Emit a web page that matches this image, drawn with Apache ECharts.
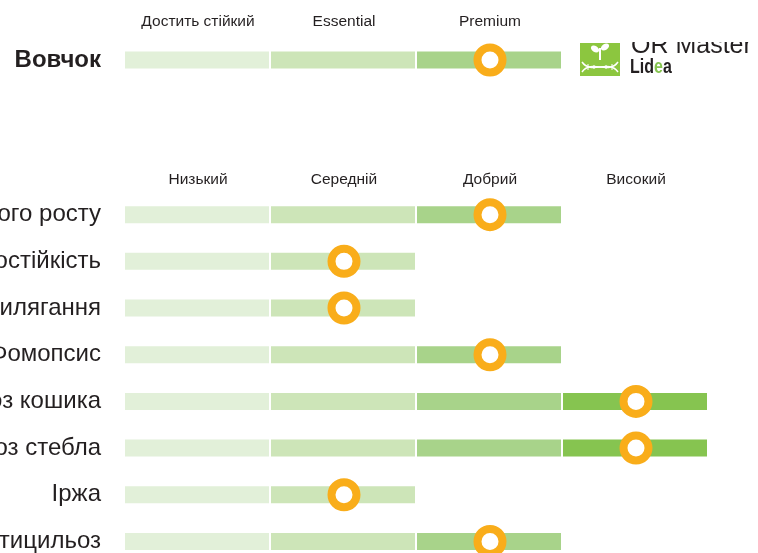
<!DOCTYPE html>
<html>
<head>
<meta charset="utf-8">
<script src="https://cdn.jsdelivr.net/npm/echarts@6/dist/echarts.min.js"></script>
<style>html,body{margin:0;padding:0;background:#fff}#c{width:758px;height:553px}</style>
</head>
<body>
<div id="c"></div>
<script>
// ---- data ----
const topRows = ['Вовчок'];
const topLevels = ['Достить стійкий', 'Essential', 'Premium', ''];
const topScores = [3];

const traitRows = ['Енергія початкового росту', 'Посухостійкість', 'Стійкість до вилягання', 'Фомопсис',
  'Склеротиніоз кошика', 'Склеротиніоз стебла', 'Іржа', 'Вертицильоз'];
const traitLevels = ['Низький', 'Середній', 'Добрий', 'Високий'];
const traitScores = [3, 2, 2, 3, 4, 4, 2, 3];

// ---- styles ----
const segColors = ['#E2F0D9', '#CDE5B8', '#A8D38A', '#86C450'];
const orange = '#F9AD1A';
const ink = '#231F20';
const FONT = '"Liberation Sans", Arial, sans-serif';

function segData(scores) {
  const out = [];
  scores.forEach((s, r) => { for (let i = 0; i < s; i++) out.push([i, r]); });
  return out;
}
function markerData(scores) { return scores.map((s, r) => [s - 0.5, r]); }

function renderSeg(params, api) {
  const seg = api.value(0), row = api.value(1);
  const p0 = api.coord([seg, row]);
  const p1 = api.coord([seg + 1, row]);
  const h = 17;
  return { type: 'rect', shape: { x: p0[0], y: p0[1] - h / 2, width: p1[0] - p0[0] - 2, height: h },
    style: { fill: segColors[seg] } };
}

const chart = echarts.init(document.getElementById('c'), null, { renderer: 'canvas' });
const band = 46.67;
const hdrLabel = { fontSize: 15.5, color: ink, fontFamily: FONT, interval: 0, hideOverlap: false };
chart.setOption({
  backgroundColor: '#fff',
  animation: false,
  textStyle: { fontFamily: FONT },
  grid: [
    { left: 125, width: 584, top: 60 - band / 2, height: band, containLabel: false, outerBoundsMode: 'none' },
    { left: 125, width: 584, top: 214.7 - band / 2, height: band * traitRows.length, containLabel: false, outerBoundsMode: 'none' }
  ],
  xAxis: [
    { gridIndex: 0, type: 'value', min: 0, max: 4, show: false },
    { gridIndex: 0, type: 'category', position: 'top', data: topLevels, boundaryGap: true,
      axisLine: { show: false }, axisTick: { show: false }, splitLine: { show: false },
      axisLabel: Object.assign({ margin: 7 }, hdrLabel) },
    { gridIndex: 1, type: 'value', min: 0, max: 4, show: false },
    { gridIndex: 1, type: 'category', position: 'top', data: traitLevels, boundaryGap: true,
      axisLine: { show: false }, axisTick: { show: false }, splitLine: { show: false },
      axisLabel: Object.assign({ margin: 4 }, hdrLabel) }
  ],
  yAxis: [
    { gridIndex: 0, type: 'category', data: topRows, inverse: true,
      axisLine: { show: false }, axisTick: { show: false }, splitLine: { show: false },
      axisLabel: { margin: 24, fontSize: 24, fontWeight: 'bold', color: ink, fontFamily: FONT } },
    { gridIndex: 1, type: 'category', data: traitRows, inverse: true,
      axisLine: { show: false }, axisTick: { show: false }, splitLine: { show: false },
      axisLabel: { margin: 24, fontSize: 24, color: ink, fontFamily: FONT, interval: 0 } }
  ],
  series: [
    { type: 'custom', xAxisIndex: 0, yAxisIndex: 0, renderItem: renderSeg, data: segData(topScores), silent: true },
    { type: 'custom', xAxisIndex: 2, yAxisIndex: 1, renderItem: renderSeg, data: segData(traitScores), silent: true },
    { type: 'scatter', xAxisIndex: 0, yAxisIndex: 0, data: markerData(topScores), symbol: 'circle', symbolSize: 25,
      itemStyle: { color: '#fff', borderColor: orange, borderWidth: 8, opacity: 1 }, z: 5 },
    { type: 'scatter', xAxisIndex: 2, yAxisIndex: 1, data: markerData(traitScores), symbol: 'circle', symbolSize: 25,
      itemStyle: { color: '#fff', borderColor: orange, borderWidth: 8, opacity: 1 }, z: 5 }
  ],
  graphic: [
    { type: 'text', left: 631, top: 34, z: 10,
      style: { text: 'OR Master', fontSize: 25, fontFamily: FONT, fill: ink } },
    { type: 'rect', shape: { x: 622, y: 0, width: 136, height: 42 }, style: { fill: '#fff' }, z: 11 },
    { type: 'text', x: 630, y: 57, scaleX: 0.8, z: 10,
      style: { text: '{a|Lid}{b|e}{a|a}', fontFamily: FONT,
        rich: { a: { fontSize: 20, fontWeight: 'bold', fill: ink, fontFamily: FONT },
                b: { fontSize: 20, fontWeight: 'bold', fill: '#86C450', fontFamily: FONT } } } },
    { type: 'rect', shape: { x: 580, y: 43, width: 40, height: 33 }, style: { fill: '#8CC63F' }, z: 10 },
    // sprout
    { type: 'line', shape: { x1: 600, y1: 48, x2: 600, y2: 60 }, style: { stroke: '#fff', lineWidth: 2 }, z: 12 },
    { type: 'ellipse', shape: { cx: 595, cy: 49, rx: 4.5, ry: 3 }, rotation: -0.6, originX: 595, originY: 49,
      style: { fill: '#fff' }, z: 12 },
    { type: 'ellipse', shape: { cx: 605, cy: 47, rx: 4.5, ry: 3 }, rotation: 0.6, originX: 605, originY: 47,
      style: { fill: '#fff' }, z: 12 },
    // DNA helix
    { type: 'bezierCurve', shape: { x1: 582, y1: 62, cpx1: 591, cpy1: 75, cpx2: 609, cpy2: 59, x2: 618, y2: 72 },
      style: { stroke: '#fff', lineWidth: 1.5, fill: 'none' }, z: 12 },
    { type: 'bezierCurve', shape: { x1: 582, y1: 72, cpx1: 591, cpy1: 59, cpx2: 609, cpy2: 75, x2: 618, y2: 62 },
      style: { stroke: '#fff', lineWidth: 1.5, fill: 'none' }, z: 12 },
    { type: 'line', shape: { x1: 588, y1: 64, x2: 588, y2: 70 }, style: { stroke: '#fff', lineWidth: 1 }, z: 12 },
    { type: 'line', shape: { x1: 594, y1: 65, x2: 594, y2: 69 }, style: { stroke: '#fff', lineWidth: 1 }, z: 12 },
    { type: 'line', shape: { x1: 606, y1: 65, x2: 606, y2: 69 }, style: { stroke: '#fff', lineWidth: 1 }, z: 12 },
    { type: 'line', shape: { x1: 612, y1: 64, x2: 612, y2: 70 }, style: { stroke: '#fff', lineWidth: 1 }, z: 12 }
  ]
});
</script>
</body>
</html>
